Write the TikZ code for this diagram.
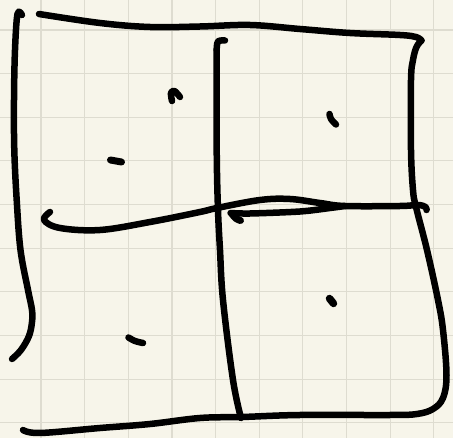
\documentclass[tikz,border=0pt]{standalone}
\usetikzlibrary{calc}
\definecolor{paper}{HTML}{F7F5EA}
\definecolor{gridc}{HTML}{DEDCD0}
\tikzset{
  ink/.style={line width=6.5pt, line cap=round, line join=round, black},
  gridline/.style={line width=1.1pt, gridc},
}
\begin{document}
\begin{tikzpicture}[x=1pt,y=-1pt]
  \fill[paper] (0,0) rectangle (453,438);
  \useasboundingbox (0,0) rectangle (453,438);
  % grid
  \foreach \i in {0,...,9} {
    \draw[gridline] ({41+43.65*\i},0) -- ({41+43.65*\i},438);
  }
  \foreach \j in {0,...,9} {
    \draw[gridline] (0,{30+43.65*\j}) -- (453,{30+43.65*\j});
  }
  % left vertical stroke
  \draw[ink] plot[smooth, tension=0.6] coordinates {(22,15) (17.5,14) (15,50) (14,100) (14.3,150) (16.7,200) (20.5,250) (28,290) (32,310) (32,322) (29,336) (21,350) (12,359)};
  % outer stroke: top edge
  \draw[ink] plot[smooth, tension=0.6] coordinates {(39,14) (100,23) (150,27) (200,26.5) (250,25) (300,29) (350,33) (400,35) (416,37) (421.5,40.5)};
  % outer stroke: right edge and bottom edge
  \draw[ink] plot[smooth, tension=0.6] coordinates {(421.5,40.5) (416.5,47) (413,60) (411,80) (411,150) (413,190) (416,207) (427,250) (438,300) (443,330) (446.5,375) (443,398) (433,409) (417,414) (390,415) (300,415) (242,417) (200,418) (150,424) (100,428) (40,433) (23,430)};
  % middle vertical
  \draw[ink] plot[smooth, tension=0.6] coordinates {(225,40.5) (218,41.5) (216.7,50)};
  \draw[ink] plot[smooth, tension=0.6] coordinates {(216.7,50) (216.7,150) (218,210) (220,250) (223,300) (233,380) (241,418)};
  % middle horizontal (long)
  \draw[ink] plot[smooth, tension=0.6] coordinates {(50,212) (44,220) (60,228) (100,230) (150,222) (200,212) (217,208) (260,200) (290,199) (320,203) (345,206) (400,206) (418,205) (425.5,207) (426.5,210)};
  % middle horizontal (short, right)
  \draw[ink] plot[smooth, tension=0.5] coordinates {(230.5,213) (250,213.5) (300,211.5) (330,208) (345,206)};
  \draw[ink, line width=7pt] plot[smooth, tension=0.6] coordinates {(232,214) (236,218.5) (240.5,220.5)};
  % little marks
  \draw[ink] plot[smooth, tension=0.6] coordinates {(172,101) (171,93) (174.5,91) (180,97)};
  \draw[ink] plot[smooth, tension=0.6] coordinates {(329.5,114) (331,119) (336,124.5)};
  \draw[ink, line width=7pt] (110.5,160) -- (121.5,162);
  \draw[ink] plot[smooth, tension=0.6] coordinates {(128.5,337.5) (135,341) (143,343)};
  \draw[ink, line width=7.5pt] (329.5,298.5) -- (333.5,303.5);
\end{tikzpicture}
\end{document}
